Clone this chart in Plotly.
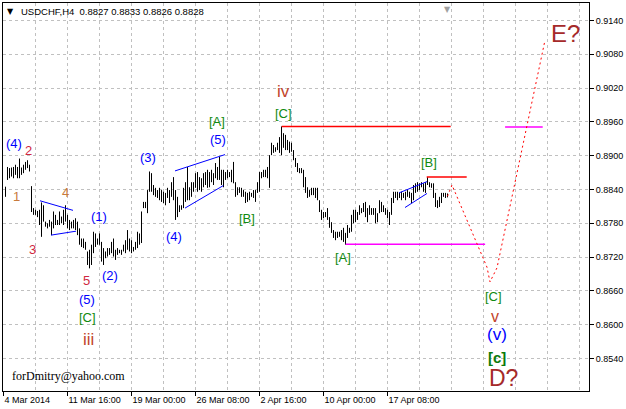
import plotly.graph_objects as go

# ---------------- data ----------------
# H4 bars, index 0 = first visible bar (4 Mar 2014 ~12:00), 2 px per bar
high = [
    0.8845, 0.8880, 0.8878, 0.8879, 0.8880, 0.8884, 0.8880, 0.8895, 0.8879, 0.8884,
    0.8889, 0.8892, 0.8884, 0.8846, 0.8807, 0.8804, 0.8802, 0.8804, 0.8817, 0.8812,
    0.8783, 0.8780, 0.8786, 0.8783, 0.8801, 0.8795, 0.8786, 0.8801, 0.8792, 0.8804,
    0.8812, 0.8795, 0.8786, 0.8783, 0.8786, 0.8789, 0.8783, 0.8771, 0.8753, 0.8753,
    0.8747, 0.8730, 0.8733, 0.8742, 0.8765, 0.8762, 0.8753, 0.8762, 0.8747, 0.8736,
    0.8730, 0.8736, 0.8736, 0.8747, 0.8753, 0.8733, 0.8736, 0.8733, 0.8733, 0.8742,
    0.8750, 0.8768, 0.8753, 0.8750, 0.8738, 0.8747, 0.8765, 0.8762, 0.8801, 0.8818,
    0.8818, 0.8839, 0.8872,
    0.8869, 0.8848, 0.8843, 0.8839, 0.8843, 0.8839, 0.8836, 0.8834, 0.8843, 0.8839,
    0.8853, 0.8862, 0.8839, 0.8827, 0.8812, 0.8812, 0.8843, 0.8853, 0.8880, 0.8844,
    0.8853, 0.8853, 0.8869, 0.8871, 0.8862, 0.8860, 0.8869, 0.8871, 0.8875, 0.8871,
    0.8875, 0.8869, 0.8887, 0.8880, 0.8898, 0.8875, 0.8875, 0.8871, 0.8875, 0.8871,
    0.8875, 0.8889, 0.8853, 0.8844, 0.8844, 0.8843, 0.8839, 0.8836, 0.8834, 0.8836,
    0.8834, 0.8839, 0.8839, 0.8853, 0.8871, 0.8871, 0.8875, 0.8875, 0.8880, 0.8901,
    0.8923, 0.8919, 0.8915, 0.8923, 0.8933, 0.8952, 0.8940, 0.8937, 0.8928, 0.8925,
    0.8923, 0.8910, 0.8896, 0.8887,
    0.8878, 0.8878, 0.8875, 0.8862, 0.8844, 0.8839, 0.8843, 0.8843, 0.8843, 0.8843,
    0.8821, 0.8804, 0.8800, 0.8800, 0.8807, 0.8791, 0.8782, 0.8768, 0.8765, 0.8765,
    0.8765, 0.8768, 0.8772, 0.8763, 0.8777, 0.8772, 0.8795, 0.8804, 0.8804, 0.8800,
    0.8812, 0.8807, 0.8816, 0.8818, 0.8807, 0.8812, 0.8807, 0.8807, 0.8807, 0.8798,
    0.8821, 0.8818, 0.8812, 0.8807, 0.8804, 0.8800, 0.8825, 0.8836, 0.8836, 0.8836,
    0.8834, 0.8836, 0.8834, 0.8836, 0.8839, 0.8836, 0.8834, 0.8848, 0.8851, 0.8853,
    0.8851, 0.8853, 0.8851, 0.8853, 0.8862, 0.8853, 0.8851, 0.8851, 0.8834, 0.8821,
    0.8827, 0.8834, 0.8834, 0.8834, 0.8833,
]
low = [
    0.8827, 0.8857, 0.8860, 0.8863, 0.8860, 0.8866, 0.8860, 0.8860, 0.8866, 0.8869,
    0.8875, 0.8878, 0.8872, 0.8800, 0.8795, 0.8795, 0.8791, 0.8777, 0.8756, 0.8783,
    0.8774, 0.8771, 0.8774, 0.8759, 0.8771, 0.8777, 0.8777, 0.8777, 0.8780, 0.8777,
    0.8783, 0.8771, 0.8768, 0.8771, 0.8771, 0.8768, 0.8759, 0.8742, 0.8738, 0.8736,
    0.8733, 0.8706, 0.8700, 0.8706, 0.8727, 0.8738, 0.8742, 0.8742, 0.8712, 0.8706,
    0.8718, 0.8721, 0.8724, 0.8727, 0.8721, 0.8715, 0.8724, 0.8727, 0.8724, 0.8730,
    0.8727, 0.8733, 0.8730, 0.8727, 0.8730, 0.8733, 0.8736, 0.8742, 0.8745, 0.8807,
    0.8807, 0.8798, 0.8836,
    0.8836, 0.8830, 0.8827, 0.8825, 0.8821, 0.8818, 0.8816, 0.8812, 0.8825, 0.8816,
    0.8827, 0.8821, 0.8786, 0.8791, 0.8800, 0.8804, 0.8807, 0.8818, 0.8821, 0.8821,
    0.8827, 0.8836, 0.8843, 0.8836, 0.8839, 0.8836, 0.8844, 0.8848, 0.8843, 0.8844,
    0.8853, 0.8848, 0.8860, 0.8857, 0.8857, 0.8848, 0.8844, 0.8857, 0.8860, 0.8862,
    0.8853, 0.8851, 0.8827, 0.8830, 0.8834, 0.8827, 0.8827, 0.8816, 0.8818, 0.8821,
    0.8827, 0.8825, 0.8818, 0.8834, 0.8836, 0.8860, 0.8862, 0.8862, 0.8860, 0.8843,
    0.8901, 0.8905, 0.8907, 0.8910, 0.8905, 0.8901, 0.8914, 0.8910, 0.8910, 0.8905,
    0.8907, 0.8892, 0.8880, 0.8871,
    0.8869, 0.8869, 0.8844, 0.8834, 0.8825, 0.8827, 0.8830, 0.8830, 0.8825, 0.8821,
    0.8800, 0.8786, 0.8789, 0.8791, 0.8786, 0.8772, 0.8763, 0.8754, 0.8750, 0.8754,
    0.8756, 0.8750, 0.8747, 0.8742, 0.8754, 0.8763, 0.8765, 0.8780, 0.8782, 0.8786,
    0.8795, 0.8798, 0.8800, 0.8791, 0.8782, 0.8795, 0.8795, 0.8795, 0.8780, 0.8782,
    0.8798, 0.8800, 0.8800, 0.8795, 0.8789, 0.8777, 0.8795, 0.8816, 0.8825, 0.8821,
    0.8825, 0.8821, 0.8825, 0.8821, 0.8827, 0.8825, 0.8816, 0.8821, 0.8834, 0.8836,
    0.8839, 0.8844, 0.8836, 0.8834, 0.8848, 0.8844, 0.8843, 0.8825, 0.8809, 0.8807,
    0.8809, 0.8816, 0.8827, 0.8825, 0.8826,
]

header_text = "USDCHF,H4  0.8827 0.8833 0.8826 0.8828"

# time axis labels (bar index, text)
x_label_bars = [-1, 31, 63, 95, 127, 159, 191]
x_label_text = ["4 Mar 2014", "11 Mar 16:00", "19 Mar 00:00", "26 Mar 08:00",
                "2 Apr 16:00", "10 Apr 00:00", "17 Apr 08:00"]
price_ticks = [0.8540, 0.8600, 0.8660, 0.8720, 0.8780, 0.8840, 0.8900,
               0.8960, 0.9020, 0.9080, 0.9140]

# horizontal levels: (from bar, to bar, price, colour)
levels = [
    (138.1, 222.6, 0.8952, "#FF0000"),
    (210.6, 230.6, 0.8862, "#FF0000"),
    (170.1, 239.8, 0.8743, "#FF00FF"),
    (249.8, 268.6, 0.8951, "#FF00FF"),
]
# channel / triangle lines: (bar0, price0, bar1, price1)
channels = [
    (17.25, 0.8820, 33.75, 0.8803),
    (22.75, 0.8759, 35.25, 0.8766),
    (84.75, 0.8873, 109.75, 0.8902),
    (89.75, 0.8807, 108.9, 0.8847),
    (196.75, 0.8834, 210.75, 0.8854),
    (199.75, 0.8808, 210.75, 0.8833),
]
# projected path (bar index, price)
proj_bar = [221, 223.25, 240.75, 242.25, 245.75, 254.75, 269.75]
proj_price = [0.8828, 0.8848, 0.8702, 0.8676, 0.8701, 0.8851, 0.9105]

BLUE = "#0000FF"
GREEN = "#108A10"
ROMAN = "#C2452A"
CRIMSON = "#D0283F"
BROWN = "#C77A3C"
DQ = "#A52A2A"

# wave labels: (text, bar, price, colour, size)
wave_labels = [
    ("(4)", 4.25, 0.8922, BLUE, 13),
    ("2", 11.4, 0.8909, CRIMSON, 13),
    ("1", 5.25, 0.8827, BROWN, 13),
    ("3", 13.4, 0.8733, CRIMSON, 13),
    ("4", 30.1, 0.8834, BROWN, 13),
    ("(1)", 46.75, 0.8792, BLUE, 13),
    ("(3)", 71.4, 0.8896, BLUE, 13),
    ("(4)", 84.4, 0.8757, BLUE, 13),
    ("(5)", 106.4, 0.8929, BLUE, 13),
    ("[A]", 105.9, 0.8960, GREEN, 13),
    ("[B]", 120.6, 0.8789, GREEN, 13),
    ("iv", 138.9, 0.9014, ROMAN, 17),
    ("[C]", 138.9, 0.8975, GREEN, 13),
    ("[A]", 168.9, 0.8719, GREEN, 13),
    ("[B]", 211.9, 0.8888, GREEN, 13),
    ("5", 40.25, 0.8678, CRIMSON, 13),
    ("(2)", 52.25, 0.8688, BLUE, 13),
    ("(5)", 40.6, 0.8644, BLUE, 13),
    ("[C]", 40.9, 0.8613, GREEN, 13),
    ("iii", 41.4, 0.8573, ROMAN, 17),
    ("[C]", 243.9, 0.8650, GREEN, 13),
    ("v", 244.75, 0.8614, ROMAN, 16),
    ("(v)", 245.9, 0.8582, BLUE, 17),
    ("<b>[c]</b>", 245.6, 0.8542, "#0B7A0B", 15),
    ("D?", 248.9, 0.8506, DQ, 23),
    ("E?", 280.1, 0.9117, DQ, 24),
]

# ---------------- figure ----------------
fig = go.Figure()

bx, by = [], []
for i, (h, l) in enumerate(zip(high, low)):
    bx += [i, i, None]
    by += [l, h, None]
fig.add_trace(go.Scatter(x=bx, y=by, mode="lines",
                         line=dict(color="black", width=1),
                         hoverinfo="skip", showlegend=False))

for b0, b1, p, c in levels:
    fig.add_trace(go.Scatter(x=[b0, b1], y=[p, p], mode="lines",
                             line=dict(color=c, width=1.5),
                             hoverinfo="skip", showlegend=False))

for b0, p0, b1, p1 in channels:
    fig.add_trace(go.Scatter(x=[b0, b1], y=[p0, p1], mode="lines",
                             line=dict(color="#0000FF", width=1),
                             hoverinfo="skip", showlegend=False))

fig.add_trace(go.Scatter(x=proj_bar, y=proj_price, mode="lines",
                         line=dict(color="#FF0000", width=1, dash="2px,3px"),
                         hoverinfo="skip", showlegend=False))

annotations = []
for t, b, p, c, s in wave_labels:
    annotations.append(dict(x=b, y=p, xref="x", yref="y", text=t, showarrow=False,
                            xanchor="center", yanchor="middle", borderpad=0,
                            font=dict(family="Liberation Sans, Arial", size=s, color=c)))

annotations.append(dict(x=0.027, y=0.979, xref="paper", yref="paper", text=header_text,
                        showarrow=False, xanchor="left", yanchor="middle",
                        font=dict(family="Liberation Sans, Arial", size=9.5, color="black")))
annotations.append(dict(x=0.0135, y=0.979, xref="paper", yref="paper", text="▼",
                        showarrow=False, xanchor="center", yanchor="middle",
                        font=dict(family="DejaVu Sans", size=8, color="black")))
annotations.append(dict(x=221, y=1.0, xref="x", yref="paper", text="▼",
                        showarrow=False, xanchor="center", yanchor="top",
                        font=dict(family="DejaVu Sans", size=8, color="#A0A0A0")))
annotations.append(dict(x=0.012, y=0.0387, xref="paper", yref="paper",
                        text="forDmitry@yahoo.com", showarrow=False,
                        xanchor="left", yanchor="middle",
                        font=dict(family="Liberation Serif, Times New Roman", size=12,
                                  color="black")))

GRID = "#C0C0C0"
fig.update_layout(
    width=626, height=409,
    margin=dict(l=3, r=37, t=3, b=18, autoexpand=False),
    paper_bgcolor="white", plot_bgcolor="white",
    annotations=annotations,
    showlegend=False,
    xaxis=dict(
        range=[-1.25, 291.75], showgrid=False, zeroline=False,
        showline=True, mirror=True, linecolor="black", linewidth=1,
        tickmode="array", tickvals=x_label_bars, ticktext=x_label_text,
        ticks="outside", ticklen=4, tickcolor="black",
        ticklabelposition="outside right",
        tickfont=dict(family="Liberation Sans, Arial", size=9, color="black"),
        minor=dict(tick0=15, dtick=16, showgrid=True, gridcolor=GRID,
                   griddash="3px,3px", gridwidth=1, ticks=""),
    ),
    yaxis=dict(
        range=[0.84823, 0.91711], side="right", zeroline=False,
        showline=True, mirror=True, linecolor="black", linewidth=1,
        tickmode="array", tickvals=price_ticks,
        ticktext=["%.4f" % v for v in price_ticks],
        ticks="outside", ticklen=4, tickcolor="black",
        showgrid=True, gridcolor=GRID, griddash="3px,3px", gridwidth=1,
        tickfont=dict(family="Liberation Sans, Arial", size=9, color="black"),
    ),
)

fig.write_html("out.html", config={"displayModeBar": False, "staticPlot": True},
               post_script="document.body.style.margin='0';document.body.style.overflow='hidden';")
